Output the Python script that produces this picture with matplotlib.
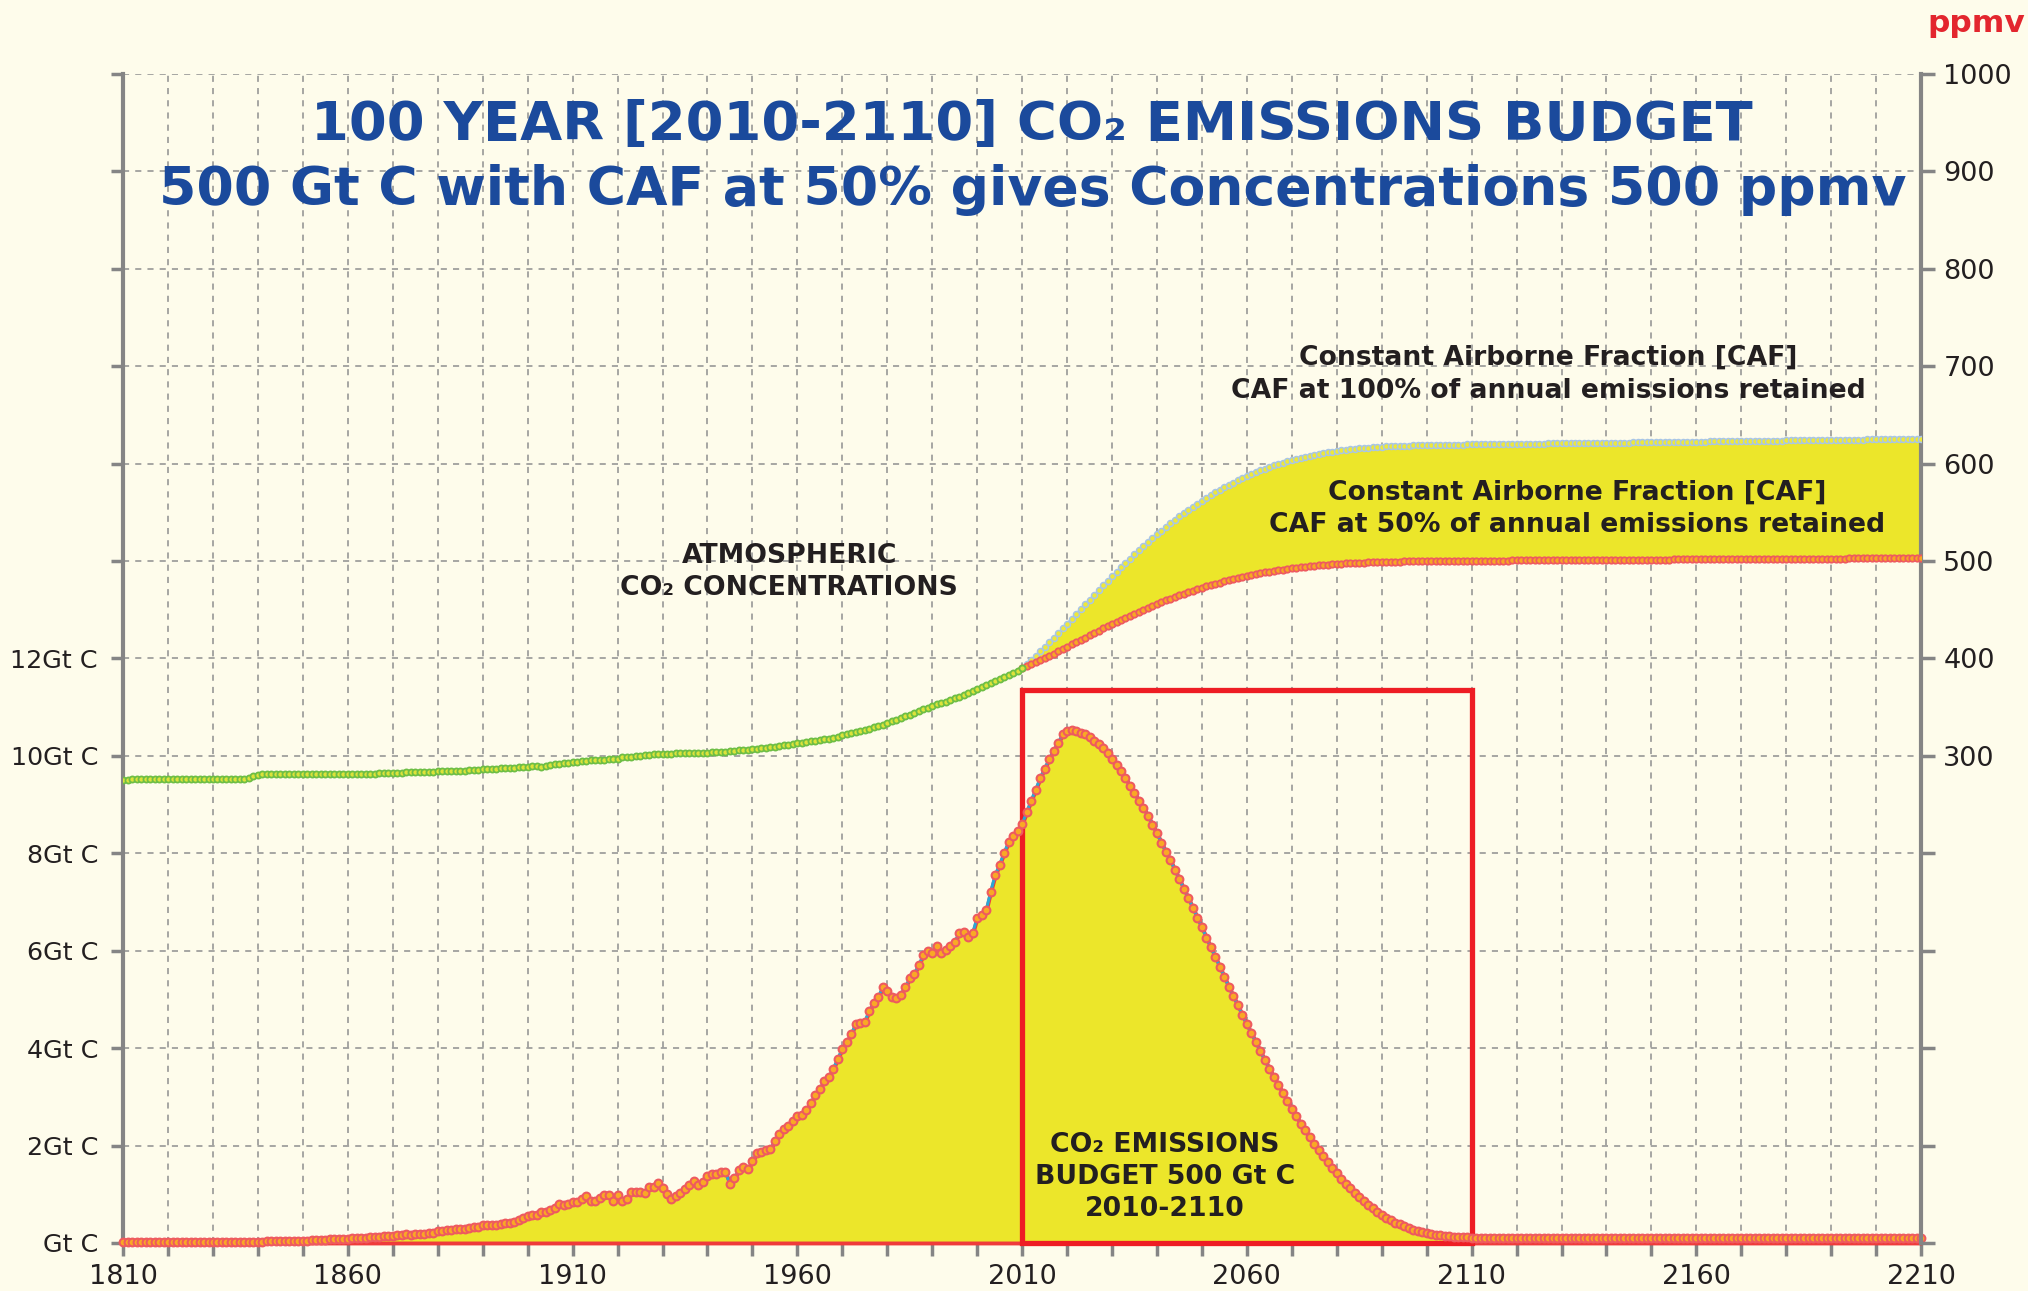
import numpy as np
import matplotlib
matplotlib.use('Agg')
from matplotlib import pyplot as plt
from matplotlib.patches import Rectangle

plt.rcParams['font.family'] = ['DejaVu Sans']

# annual CO2 emissions, Gt C, 1810..2210 (history, then the 500 Gt C budget, then a flat tail)
emissions = [
    0.01, 0.01, 0.01, 0.01, 0.01, 0.01, 0.01, 0.01, 0.01, 0.01,   # 1810
    0.01, 0.01, 0.02, 0.02, 0.02, 0.02, 0.02, 0.02, 0.02, 0.02,   # 1820
    0.02, 0.02, 0.02, 0.02, 0.02, 0.03, 0.03, 0.03, 0.03, 0.03,   # 1830
    0.03, 0.03, 0.04, 0.04, 0.04, 0.04, 0.04, 0.05, 0.05, 0.05,   # 1840
    0.05, 0.05, 0.06, 0.06, 0.07, 0.07, 0.08, 0.08, 0.08, 0.08,   # 1850
    0.09, 0.10, 0.10, 0.10, 0.11, 0.12, 0.12, 0.13, 0.14, 0.14,   # 1860
    0.15, 0.16, 0.17, 0.18, 0.17, 0.19, 0.19, 0.19, 0.20, 0.21,   # 1870
    0.24, 0.24, 0.26, 0.27, 0.28, 0.28, 0.28, 0.30, 0.33, 0.33,   # 1880
    0.36, 0.37, 0.37, 0.37, 0.38, 0.41, 0.42, 0.44, 0.47, 0.51,   # 1890
    0.55, 0.57, 0.58, 0.64, 0.64, 0.68, 0.72, 0.80, 0.77, 0.80,   # 1900
    0.84, 0.85, 0.90, 0.96, 0.87, 0.86, 0.92, 0.99, 0.99, 0.86,   # 1910
    0.99, 0.87, 0.91, 1.04, 1.04, 1.04, 1.03, 1.14, 1.14, 1.23,   # 1920
    1.13, 1.01, 0.91, 0.96, 1.03, 1.10, 1.18, 1.27, 1.18, 1.25,   # 1930
    1.37, 1.42, 1.42, 1.46, 1.46, 1.21, 1.34, 1.49, 1.55, 1.51,   # 1940
    1.68, 1.84, 1.87, 1.90, 1.92, 2.10, 2.24, 2.33, 2.40, 2.51,   # 1950
    2.60, 2.62, 2.72, 2.88, 3.03, 3.17, 3.32, 3.41, 3.58, 3.78,   # 1960
    3.99, 4.13, 4.29, 4.50, 4.51, 4.54, 4.77, 4.93, 5.05, 5.25,   # 1970
    5.18, 5.05, 5.03, 5.10, 5.25, 5.43, 5.53, 5.70, 5.91, 6.00,   # 1980
    5.95, 6.10, 5.95, 6.01, 6.10, 6.18, 6.36, 6.39, 6.29, 6.36,   # 1990
    6.68, 6.73, 6.83, 7.21, 7.55, 7.77, 8.01, 8.23, 8.35, 8.45,   # 2000
    8.60, 8.84, 9.08, 9.30, 9.54, 9.74, 9.93, 10.11, 10.26, 10.44,   # 2010
    10.51, 10.53, 10.51, 10.48, 10.44, 10.38, 10.31, 10.24, 10.16, 10.06,   # 2020
    9.94, 9.82, 9.68, 9.54, 9.39, 9.24, 9.08, 8.94, 8.77, 8.59,   # 2030
    8.41, 8.22, 8.03, 7.86, 7.66, 7.47, 7.27, 7.08, 6.88, 6.68,   # 2040
    6.48, 6.27, 6.07, 5.87, 5.67, 5.46, 5.26, 5.07, 4.88, 4.68,   # 2050
    4.49, 4.31, 4.13, 3.94, 3.76, 3.58, 3.41, 3.25, 3.08, 2.92,   # 2060
    2.76, 2.60, 2.45, 2.31, 2.17, 2.04, 1.91, 1.78, 1.66, 1.54,   # 2070
    1.43, 1.32, 1.22, 1.12, 1.03, 0.94, 0.86, 0.78, 0.71, 0.64,   # 2080
    0.58, 0.52, 0.47, 0.42, 0.38, 0.34, 0.30, 0.27, 0.24, 0.22,   # 2090
    0.20, 0.18, 0.17, 0.16, 0.15, 0.14, 0.13, 0.13, 0.12, 0.12,   # 2100
    0.11,                                                        # 2110
    0.10, 0.10, 0.10, 0.10, 0.10, 0.10, 0.10, 0.10, 0.10, 0.10,   # 2111
    0.10, 0.10, 0.10, 0.10, 0.10, 0.10, 0.10, 0.10, 0.10, 0.10,
    0.10, 0.10, 0.10, 0.10, 0.10, 0.10, 0.10, 0.10, 0.10, 0.10,
    0.10, 0.10, 0.10, 0.10, 0.10, 0.10, 0.10, 0.10, 0.10, 0.10,
    0.10, 0.10, 0.10, 0.10, 0.10, 0.10, 0.10, 0.10, 0.10, 0.10,
    0.10, 0.10, 0.10, 0.10, 0.10, 0.10, 0.10, 0.10, 0.10, 0.10,
    0.10, 0.10, 0.10, 0.10, 0.10, 0.10, 0.10, 0.10, 0.10, 0.10,
    0.10, 0.10, 0.10, 0.10, 0.10, 0.10, 0.10, 0.10, 0.10, 0.10,
    0.10, 0.10, 0.10, 0.10, 0.10, 0.10, 0.10, 0.10, 0.10, 0.10,
    0.10, 0.10, 0.10, 0.10, 0.10, 0.10, 0.10, 0.10, 0.10, 0.10,
]

# atmospheric CO2, ppmv, 1810..2010
concentration = [
    275.0, 275.5, 276.0, 276.5, 276.5, 276.5, 276.5, 276.5, 276.5, 276.5,   # 1810
    276.5, 276.5, 276.5, 276.5, 276.5, 276.5, 276.5, 276.5, 276.5, 276.5,   # 1820
    276.5, 276.5, 276.5, 276.5, 276.5, 276.5, 276.5, 276.5, 277.0, 279.0,   # 1830
    280.5, 281.0, 281.0, 281.0, 281.2, 281.2, 281.2, 281.2, 281.2, 281.3,   # 1840
    281.3, 281.3, 281.3, 281.3, 281.3, 281.4, 281.4, 281.4, 281.4, 281.5,   # 1850
    281.5, 281.5, 281.5, 281.6, 281.6, 281.7, 281.7, 282.0, 282.5, 282.6,   # 1860
    282.7, 282.8, 282.9, 283.0, 283.1, 283.2, 283.3, 283.5, 283.7, 283.9,   # 1870
    284.0, 284.1, 284.2, 284.4, 284.6, 284.8, 285.0, 285.2, 285.5, 285.8,   # 1880
    286.1, 286.4, 286.7, 287.0, 287.2, 287.4, 287.7, 288.0, 288.3, 288.6,   # 1890
    288.9, 289.2, 289.3, 289.0, 289.5, 290.5, 291.2, 291.8, 292.4, 293.0,   # 1900
    293.6, 294.0, 294.5, 295.0, 295.3, 295.6, 295.8, 296.2, 296.6, 297.0,   # 1910
    297.3, 298.5, 298.8, 299.2, 299.8, 300.3, 300.8, 301.2, 301.5, 301.7,   # 1920
    301.9, 302.1, 302.3, 302.5, 302.6, 302.7, 302.8, 302.9, 303.0, 303.2,   # 1930
    303.4, 303.6, 303.8, 304.1, 304.4, 304.8, 305.2, 305.6, 306.0, 306.4,   # 1940
    306.8, 307.3, 307.8, 308.4, 309.0, 309.6, 310.2, 310.9, 311.6, 312.3,   # 1950
    313.0, 313.7, 314.3, 314.9, 315.5, 316.2, 317.0, 317.8, 318.7, 319.8,   # 1960
    321.0, 322.0, 323.0, 324.2, 325.4, 326.6, 327.8, 329.2, 330.6, 332.2,   # 1970
    333.8, 335.4, 337.0, 338.8, 340.6, 342.4, 344.2, 346.0, 347.8, 349.6,   # 1980
    351.3, 352.8, 354.3, 355.8, 357.4, 359.1, 360.8, 362.6, 364.5, 366.4,   # 1990
    368.4, 370.4, 372.4, 374.5, 376.6, 378.7, 380.9, 383.1, 385.3, 387.6,   # 2000
    390.0,                                                                  # 2010
]

# projected concentrations 2010..2210, CAF 100% and CAF 50%
caf100 = [
    390.0, 394.2, 398.4, 402.8, 407.3, 411.9, 416.5, 421.3, 426.1, 431.0,   # 2010
    435.9, 440.9, 445.8, 450.8, 455.7, 460.5, 465.4, 470.2, 475.0, 479.7,   # 2020
    484.4, 489.0, 493.5, 498.0, 502.4, 506.8, 511.0, 515.3, 519.4, 523.4,   # 2030
    527.4, 531.2, 535.0, 538.7, 542.3, 545.8, 549.2, 552.5, 555.8, 558.9,   # 2040
    562.0, 564.9, 567.8, 570.5, 573.2, 575.8, 578.2, 580.6, 582.9, 585.1,   # 2050
    587.2, 589.2, 591.2, 593.0, 594.8, 596.5, 598.1, 599.6, 601.1, 602.4,   # 2060
    603.7, 605.0, 606.1, 607.2, 608.2, 609.2, 610.1, 610.9, 611.7, 612.4,   # 2070
    613.1, 613.7, 614.3, 614.8, 615.3, 615.7, 616.1, 616.5, 616.8, 617.1,   # 2080
    617.4, 617.6, 617.9, 618.1, 618.2, 618.4, 618.5, 618.7, 618.8, 618.9,   # 2090
    619.0, 619.1, 619.2, 619.3, 619.4, 619.5, 619.5, 619.6, 619.6, 619.7,   # 2100
    619.7,                                                                  # 2110
    619.8, 619.8, 619.9, 619.9, 620.0, 620.0, 620.1, 620.2, 620.2, 620.3,
    620.3, 620.4, 620.5, 620.5, 620.6, 620.6, 620.7, 620.7, 620.8, 620.9,
    620.9, 621.0, 621.0, 621.1, 621.2, 621.2, 621.3, 621.3, 621.4, 621.4,
    621.5, 621.6, 621.6, 621.7, 621.7, 621.8, 621.8, 621.9, 622.0, 622.0,
    622.1, 622.1, 622.2, 622.3, 622.3, 622.4, 622.4, 622.5, 622.5, 622.6,
    622.7, 622.7, 622.8, 622.8, 622.9, 622.9, 623.0, 623.1, 623.1, 623.2,
    623.2, 623.3, 623.4, 623.4, 623.5, 623.5, 623.6, 623.6, 623.7, 623.8,
    623.8, 623.9, 623.9, 624.0, 624.1, 624.1, 624.2, 624.2, 624.3, 624.3,
    624.4, 624.5, 624.5, 624.6, 624.6, 624.7, 624.7, 624.8, 624.9, 624.9,
    625.0, 625.0, 625.1, 625.2, 625.2, 625.3, 625.3, 625.4, 625.4, 625.5,
]
caf50 = [
    390.0, 392.0, 394.0, 396.1, 398.3, 400.5, 402.7, 405.0, 407.3, 409.7,   # 2010
    412.0, 414.4, 416.8, 419.2, 421.5, 423.8, 426.2, 428.5, 430.8, 433.1,   # 2020
    435.3, 437.5, 439.7, 441.8, 444.0, 446.1, 448.1, 450.1, 452.1, 454.0,   # 2030
    456.0, 457.8, 459.6, 461.4, 463.1, 464.8, 466.4, 468.0, 469.6, 471.1,   # 2040
    472.6, 474.0, 475.3, 476.6, 477.9, 479.2, 480.3, 481.5, 482.6, 483.6,   # 2050
    484.7, 485.6, 486.6, 487.4, 488.3, 489.1, 489.9, 490.6, 491.3, 491.9,   # 2060
    492.6, 493.2, 493.7, 494.3, 494.7, 495.2, 495.6, 496.0, 496.4, 496.8,   # 2070
    497.1, 497.4, 497.7, 497.9, 498.1, 498.3, 498.5, 498.7, 498.9, 499.0,   # 2080
    499.2, 499.3, 499.4, 499.5, 499.5, 499.6, 499.7, 499.8, 499.8, 499.9,   # 2090
    499.9, 500.0, 500.0, 500.1, 500.1, 500.2, 500.2, 500.2, 500.3, 500.3,   # 2100
    500.3,                                                                  # 2110
    500.3, 500.4, 500.4, 500.4, 500.4, 500.5, 500.5, 500.5, 500.6, 500.6,
    500.6, 500.6, 500.7, 500.7, 500.7, 500.7, 500.8, 500.8, 500.8, 500.9,
    500.9, 500.9, 500.9, 501.0, 501.0, 501.0, 501.1, 501.1, 501.1, 501.1,
    501.2, 501.2, 501.2, 501.3, 501.3, 501.3, 501.3, 501.4, 501.4, 501.4,
    501.4, 501.5, 501.5, 501.5, 501.6, 501.6, 501.6, 501.6, 501.7, 501.7,
    501.7, 501.8, 501.8, 501.8, 501.8, 501.9, 501.9, 501.9, 502.0, 502.0,
    502.0, 502.0, 502.1, 502.1, 502.1, 502.2, 502.2, 502.2, 502.2, 502.3,
    502.3, 502.3, 502.3, 502.4, 502.4, 502.4, 502.5, 502.5, 502.5, 502.5,
    502.6, 502.6, 502.6, 502.7, 502.7, 502.7, 502.7, 502.8, 502.8, 502.8,
    502.8, 502.9, 502.9, 502.9, 503.0, 503.0, 503.0, 503.0, 503.1, 503.1,
]

em_years = np.arange(1810, 1810 + len(emissions))
conc_years = np.arange(1810, 1810 + len(concentration))
fut_years = np.arange(2010, 2010 + len(caf100))

gt_ticks = list(range(0, 25, 2))
gt_labels = ['Gt C', '2Gt C', '4Gt C', '6Gt C', '8Gt C', '10Gt C', '12Gt C'] + [''] * 6
ppm_ticks = list(range(-200, 1001, 100))
year_ticks = list(range(1810, 2211, 10))

bg = '#FEFCEB'
yellow = '#ECE62A'
red = '#EE1D24'
gray = '#858585'
dark = '#231F20'
blue_title = '#1B4A9C'

fig = plt.figure(figsize=(20.28, 12.91), dpi=100, facecolor=bg)
ax = fig.add_axes([0.0607, 0.0372, 0.8866, 0.9055])
ax.set_facecolor(bg)
ax2 = ax.twinx()

ax.set_xlim(1810, 2210)
ax.set_ylim(0, 24)
ax2.set_ylim(-200, 1000)

ax.set_axisbelow(True)
ax.grid(True, color='#8F8F8F', linestyle=(0, (4, 4)), linewidth=1.1)

# emissions: yellow area with red border, blue line + orange markers
i1850 = 40
ax.fill_between(em_years[i1850:], emissions[i1850:], 0, facecolor=yellow,
                edgecolor='#EF3B3B', linewidth=2.8, zorder=2, clip_on=False)
ax.add_patch(Rectangle((2010, 0), 100, 11.35, fill=False, edgecolor=red,
                       linewidth=3.8, zorder=3, clip_on=False))
ax.plot(em_years, emissions, color='#2AA7D5', linewidth=2.2, marker='o', markersize=5.6,
        markerfacecolor='#F9A825', markeredgecolor='#EE5A5F', markeredgewidth=1.5,
        zorder=4, clip_on=False)

# concentrations
ax2.fill_between(fut_years, caf50, caf100, facecolor=yellow, edgecolor='#E8303A',
                 linewidth=1, zorder=2)
ax2.plot(fut_years, caf100, color='#A7C3E6', linewidth=1.5, marker='o', markersize=4.3,
         markerfacecolor='#EEE83A', markeredgecolor='#A9C6E6', markeredgewidth=1.1, zorder=4)
ax2.plot(fut_years, caf50, color='#EE5A5F', linewidth=1.8, marker='o', markersize=4.6,
         markerfacecolor='#F7A823', markeredgecolor='#EE5A5F', markeredgewidth=1.3, zorder=4)
ax2.plot(conc_years, concentration, color='#6DBE45', linewidth=1.8, marker='o', markersize=4.4,
         markerfacecolor='#DDE33A', markeredgecolor='#6DBE45', markeredgewidth=1.3, zorder=4)

# axes look
for s in ['top', 'right', 'bottom']:
    ax.spines[s].set_visible(False)
for s in ['top', 'left', 'bottom']:
    ax2.spines[s].set_visible(False)
ax.spines['left'].set_color(gray)
ax.spines['left'].set_linewidth(3)
ax2.spines['right'].set_color(gray)
ax2.spines['right'].set_linewidth(3)

ax.set_xticks(year_ticks)
ax.set_xticklabels([str(y) if (y - 1810) % 50 == 0 else '' for y in year_ticks])
ax.set_yticks(gt_ticks)
ax.set_yticklabels(gt_labels)
ax2.set_yticks(ppm_ticks)
ax2.set_yticklabels([str(p) if p >= 300 else '' for p in ppm_ticks])

ax.tick_params(axis='x', direction='out', length=9, width=2.5, color=gray,
               labelsize=19.5, labelcolor=dark, pad=6)
ax.tick_params(axis='y', direction='out', length=9, width=2.5, color=gray,
               labelsize=18.3, labelcolor=dark, pad=9)
ax2.tick_params(axis='y', direction='out', length=10, width=2.5, color=gray,
                labelsize=19.5, labelcolor=dark, pad=6)

# titles and notes
fig.text(0.509, 1 - 125 / 1291, '100 YEAR [2010-2110] CO\u2082 EMISSIONS BUDGET',
         ha='center', va='center', fontsize=39.2, fontweight='bold', color=blue_title)
fig.text(0.509, 1 - 190 / 1291, '500 Gt C with CAF at 50% gives Concentrations 500 ppmv',
         ha='center', va='center', fontsize=38.6, fontweight='bold', color=blue_title)
fig.text(0.9744, 0.982, 'ppmv', ha='center', va='center', fontsize=22.5,
         fontweight='bold', color='#E3262E')

note = dict(ha='center', va='center', fontsize=19.2, fontweight='bold', color=dark, zorder=6)
ax2.text(2127, 708.6, 'Constant Airborne Fraction [CAF]', **note)
ax2.text(2127, 674.7, 'CAF at 100% of annual emissions retained', **note)
ax2.text(2133.5, 570, 'Constant Airborne Fraction [CAF]', **note)
ax2.text(2133.5, 537, 'CAF at 50% of annual emissions retained', **note)
ax2.text(1958.2, 505.3, 'ATMOSPHERIC', **note)
ax2.text(1958.2, 472.5, 'CO\u2082 CONCENTRATIONS', **note)
ax.text(2041.8, 2.01, 'CO\u2082 EMISSIONS', **note)
ax.text(2041.8, 1.36, 'BUDGET 500 Gt C', **note)
ax.text(2041.8, 0.70, '2010-2110', **note)

fig.savefig('out.png', dpi=100, facecolor=bg)
